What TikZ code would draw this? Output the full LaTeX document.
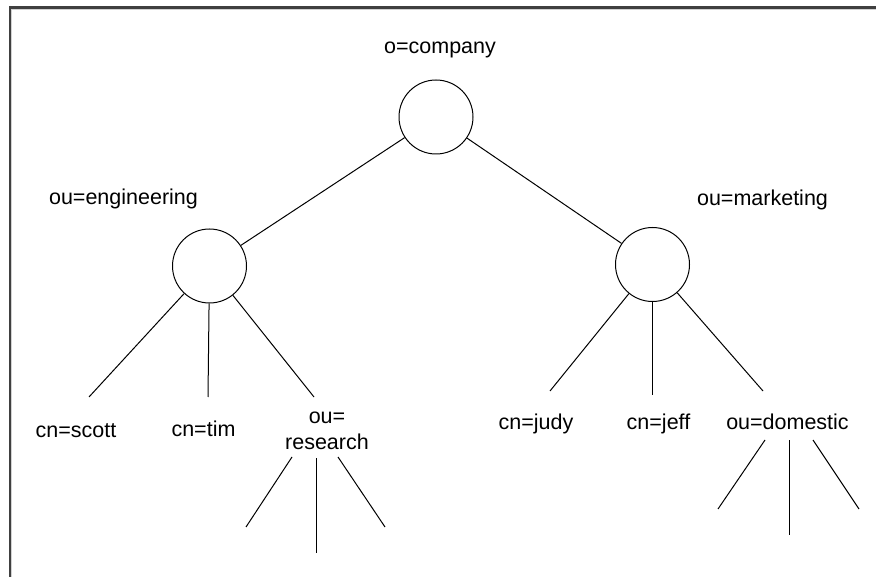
\documentclass[tikz,border=0pt]{standalone}
\usepackage{fontspec}
\setmainfont{Liberation Sans}
\begin{document}
\begin{tikzpicture}[x=1pt,y=-1pt,
  entry/.style={circle,draw=black,line width=1pt,minimum size=74pt,inner sep=0pt},
  dn/.style={anchor=base,inner sep=0pt,align=center,font=\fontsize{21.5}{26}\selectfont},
  branch/.style={color=black,line width=1pt}]

% The canvas
\fill[white] (0,0) rectangle (876,577);
\useasboundingbox (0,0) rectangle (876,577);

% The frame
\draw[color=gray!35,line width=1pt] (11,9.5) -- (876,9.5);
\draw[color=gray!35,line width=1pt] (11.5,9) -- (11.5,577);
\draw[color=black!75,line width=3pt] (9,7.5) -- (876,7.5);
\draw[color=black!75,line width=2.5pt] (10,6) -- (10,577);

% The entries
\node[entry] (company) at (436,117) {};
\node[entry] (eng) at (209.5,266) {};
\node[entry] (mkt) at (652.5,264.5) {};

% The names
\node[dn] (companyname) at (440,54) {o=company};
\node[dn] (engname) at (123.5,205) {ou=engineering};
\node[dn] (mktname) at (762.5,206) {ou=marketing};
\node[dn] (scott) at (76,437) {cn=scott};
\node[dn] (tim) at (203.5,436) {cn=tim};
\node[dn] (research) at (327,449) {ou=\\research};
\node[dn] (judy) at (536,429) {cn=judy};
\node[dn] (jeff) at (658.5,429) {cn=jeff};
\node[dn] (domestic) at (787.5,429) {ou=domestic};

% The loose ends
\coordinate (scottend) at (89,397);
\coordinate (timend) at (208,397);
\coordinate (researchend) at (314,397);
\coordinate (judyend) at (550,391);
\coordinate (jeffend) at (652.5,395);
\coordinate (domesticend) at (763,391);

\coordinate (ra) at (292,457);
\coordinate (rb) at (316,458);
\coordinate (rc) at (338,457);
\coordinate (raend) at (246,527);
\coordinate (rbend) at (316,553);
\coordinate (rcend) at (385,527);

\coordinate (da) at (765,440);
\coordinate (db) at (789,440);
\coordinate (dc) at (813,440);
\coordinate (daend) at (718,509);
\coordinate (dbend) at (789,535);
\coordinate (dcend) at (859,509);

% The tree
\draw[branch] (company) -- (eng);
\draw[branch] (company) -- (mkt);

\draw[branch] (eng) -- (scottend);
\draw[branch] (eng) -- (timend);
\draw[branch] (eng) -- (researchend);

\draw[branch] (mkt) -- (judyend);
\draw[branch] (mkt) -- (jeffend);
\draw[branch] (mkt) -- (domesticend);

% The stubs below
\draw[branch] (ra) -- (raend);
\draw[branch] (rb) -- (rbend);
\draw[branch] (rc) -- (rcend);
\draw[branch] (da) -- (daend);
\draw[branch] (db) -- (dbend);
\draw[branch] (dc) -- (dcend);

\end{tikzpicture}
\end{document}
